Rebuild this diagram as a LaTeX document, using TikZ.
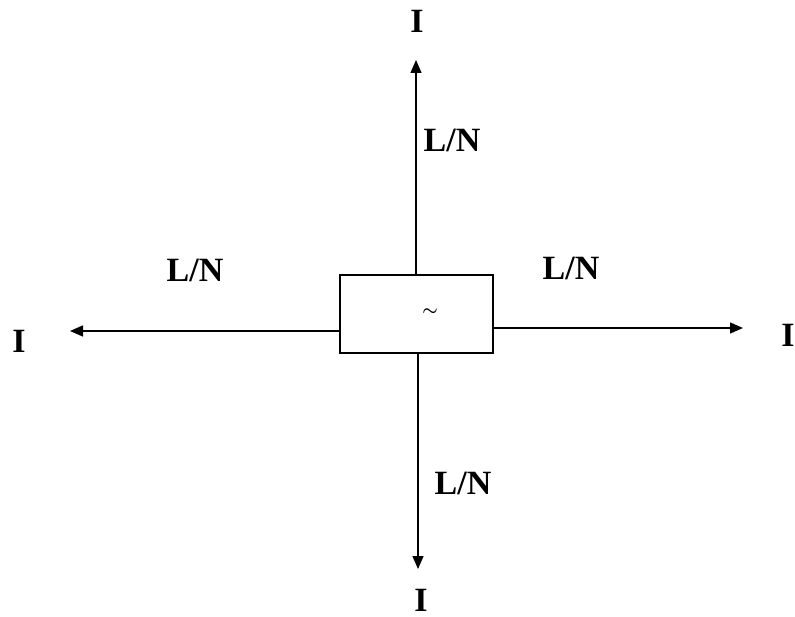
\documentclass[tikz,border=0pt]{standalone}
\usepackage{fontspec}
\setmainfont{Liberation Serif}
\usetikzlibrary{arrows.meta}
\tikzset{
  conn/.style={line width=1.4pt,-{Triangle[length=13pt,width=11pt]}},
  lbl/.style={font=\fontsize{34}{34}\selectfont\bfseries,inner sep=0pt},
  boxst/.style={draw,line width=1.4pt,minimum width=153pt,minimum height=78pt,inner sep=0pt}
}
\begin{document}
\begin{tikzpicture}[x=1pt,y=-1pt]
\useasboundingbox (0,0) rectangle (795,617);
\node[boxst] (box) at (416.5,314) {};
\node[inner sep=0pt,font=\fontsize{19}{19}\selectfont\mathversion{bold}] (tl) at (430,312) {$\sim$};
% tips
\coordinate (utip) at (416,60);
\coordinate (ltip) at (70,331);
\coordinate (rtip) at (743,328);
\coordinate (dtip) at (418,569);
\draw[conn] (utip |- box.north) -- (utip);
\draw[conn] (ltip -| box.west) -- (ltip);
\draw[conn] (rtip -| box.east) -- (rtip);
\draw[conn] (dtip |- box.south) -- (dtip);
% labels
\node[lbl] (iu) at (417,21) {I};
\node[lbl] (il) at (19,341) {I};
\node[lbl] (ir) at (788,335) {I};
\node[lbl] (id) at (421,600) {I};
\node[lbl] (lnu) at (452,140) {L/N};
\node[lbl] (lnl) at (195,270) {L/N};
\node[lbl] (lnr) at (571,268) {L/N};
\node[lbl] (lnd) at (463,483) {L/N};
\end{tikzpicture}
\end{document}
